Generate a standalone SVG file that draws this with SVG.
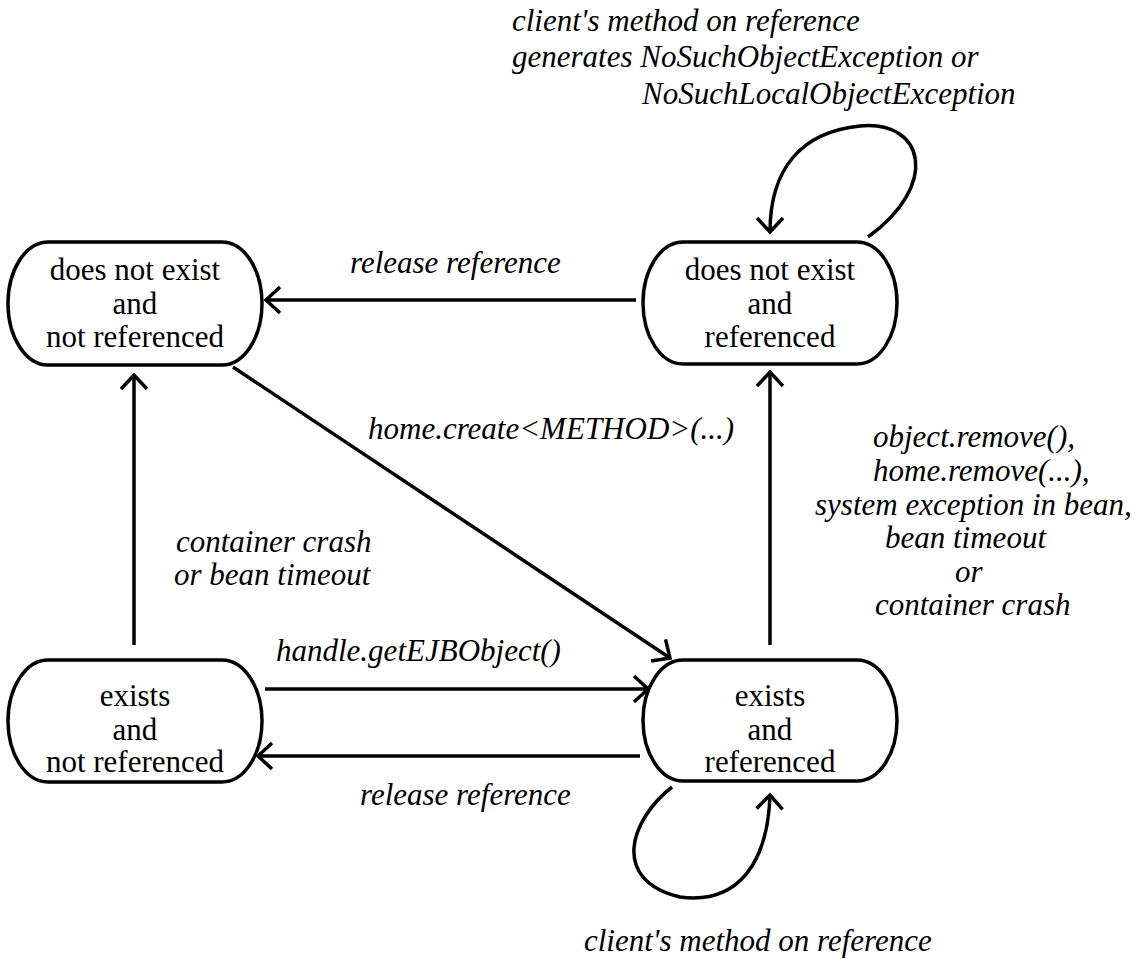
<svg xmlns="http://www.w3.org/2000/svg" width="1135" height="959" viewBox="0 0 1135 959">
<style>
.node rect{fill:#fff;stroke:#000;stroke-width:3.5}
.node text{font-family:'Liberation Serif','Times New Roman',Times,serif;font-size:31px;text-anchor:middle;fill:#000}
.edge{fill:none;stroke:#000;stroke-width:3.5}
.lbl{font-family:'Liberation Serif','Times New Roman',Times,serif;font-size:31px;font-style:italic;fill:#000}
</style>
<defs>
<marker id="ah" markerUnits="userSpaceOnUse" markerWidth="40" markerHeight="40" viewBox="-20 -20 40 40" refX="0" refY="0" orient="auto">
<path d="M-14,-13 L0,0 L-14,13" fill="none" stroke="#000" stroke-width="3.5"/>
</marker>
</defs>
<rect width="1135" height="959" fill="#fff"/>
<g id="node-dne-nref" class="node">
<rect x="8" y="242" width="254" height="123" rx="40" ry="61.5"/>
<text x="135" y="280">does not exist</text>
<text x="135" y="314">and</text>
<text x="135" y="347">not referenced</text>
</g>
<g id="node-dne-ref" class="node">
<rect x="643" y="242" width="254" height="122" rx="40" ry="61"/>
<text x="770" y="280">does not exist</text>
<text x="770" y="314">and</text>
<text x="770" y="347">referenced</text>
</g>
<g id="node-ex-nref" class="node">
<rect x="8" y="660" width="254" height="122" rx="40" ry="61"/>
<text x="135" y="706">exists</text>
<text x="135" y="740">and</text>
<text x="135" y="772">not referenced</text>
</g>
<g id="node-ex-ref" class="node">
<rect x="643" y="660" width="254" height="121" rx="40" ry="60.5"/>
<text x="770" y="706">exists</text>
<text x="770" y="740">and</text>
<text x="770" y="772">referenced</text>
</g>
<g id="connectors">
<path class="edge" d="M636,300 H266" marker-end="url(#ah)"/>
<path class="edge" d="M233,367 L670,658" marker-end="url(#ah)"/>
<path class="edge" d="M134,645 V375" marker-end="url(#ah)"/>
<path class="edge" d="M265,689 H648" marker-end="url(#ah)"/>
<path class="edge" d="M640,756 H258" marker-end="url(#ah)"/>
<path class="edge" d="M770,645 V372" marker-end="url(#ah)"/>
<path class="edge" d="M868,237 C940,185 925,120 860,126 C800,132 770,170 770,232" marker-end="url(#ah)"/>
<path class="edge" d="M672,787 C630,820 610,880 680,897 C740,905 768,860 770,795" marker-end="url(#ah)"/>
<text class="lbl" x="512" y="31">client's method on reference</text>
<text class="lbl" x="512" y="67">generates NoSuchObjectException or</text>
<text class="lbl" x="642" y="104">NoSuchLocalObjectException</text>
<text class="lbl" x="350" y="273">release reference</text>
<text class="lbl" x="368" y="439">home.create&lt;METHOD&gt;(...)</text>
<text class="lbl" x="176" y="552">container crash</text>
<text class="lbl" x="174" y="585">or bean timeout</text>
<text class="lbl" x="276" y="661">handle.getEJBObject()</text>
<text class="lbl" x="360" y="805">release reference</text>
<text class="lbl" x="584" y="951">client's method on reference</text>
<text class="lbl" x="873" y="447">object.remove(),</text>
<text class="lbl" x="873" y="481">home.remove(...),</text>
<text class="lbl" x="815" y="515">system exception in bean,</text>
<text class="lbl" x="885" y="548">bean timeout</text>
<text class="lbl" x="955" y="582">or</text>
<text class="lbl" x="875" y="615">container crash</text>
</g>
</svg>
